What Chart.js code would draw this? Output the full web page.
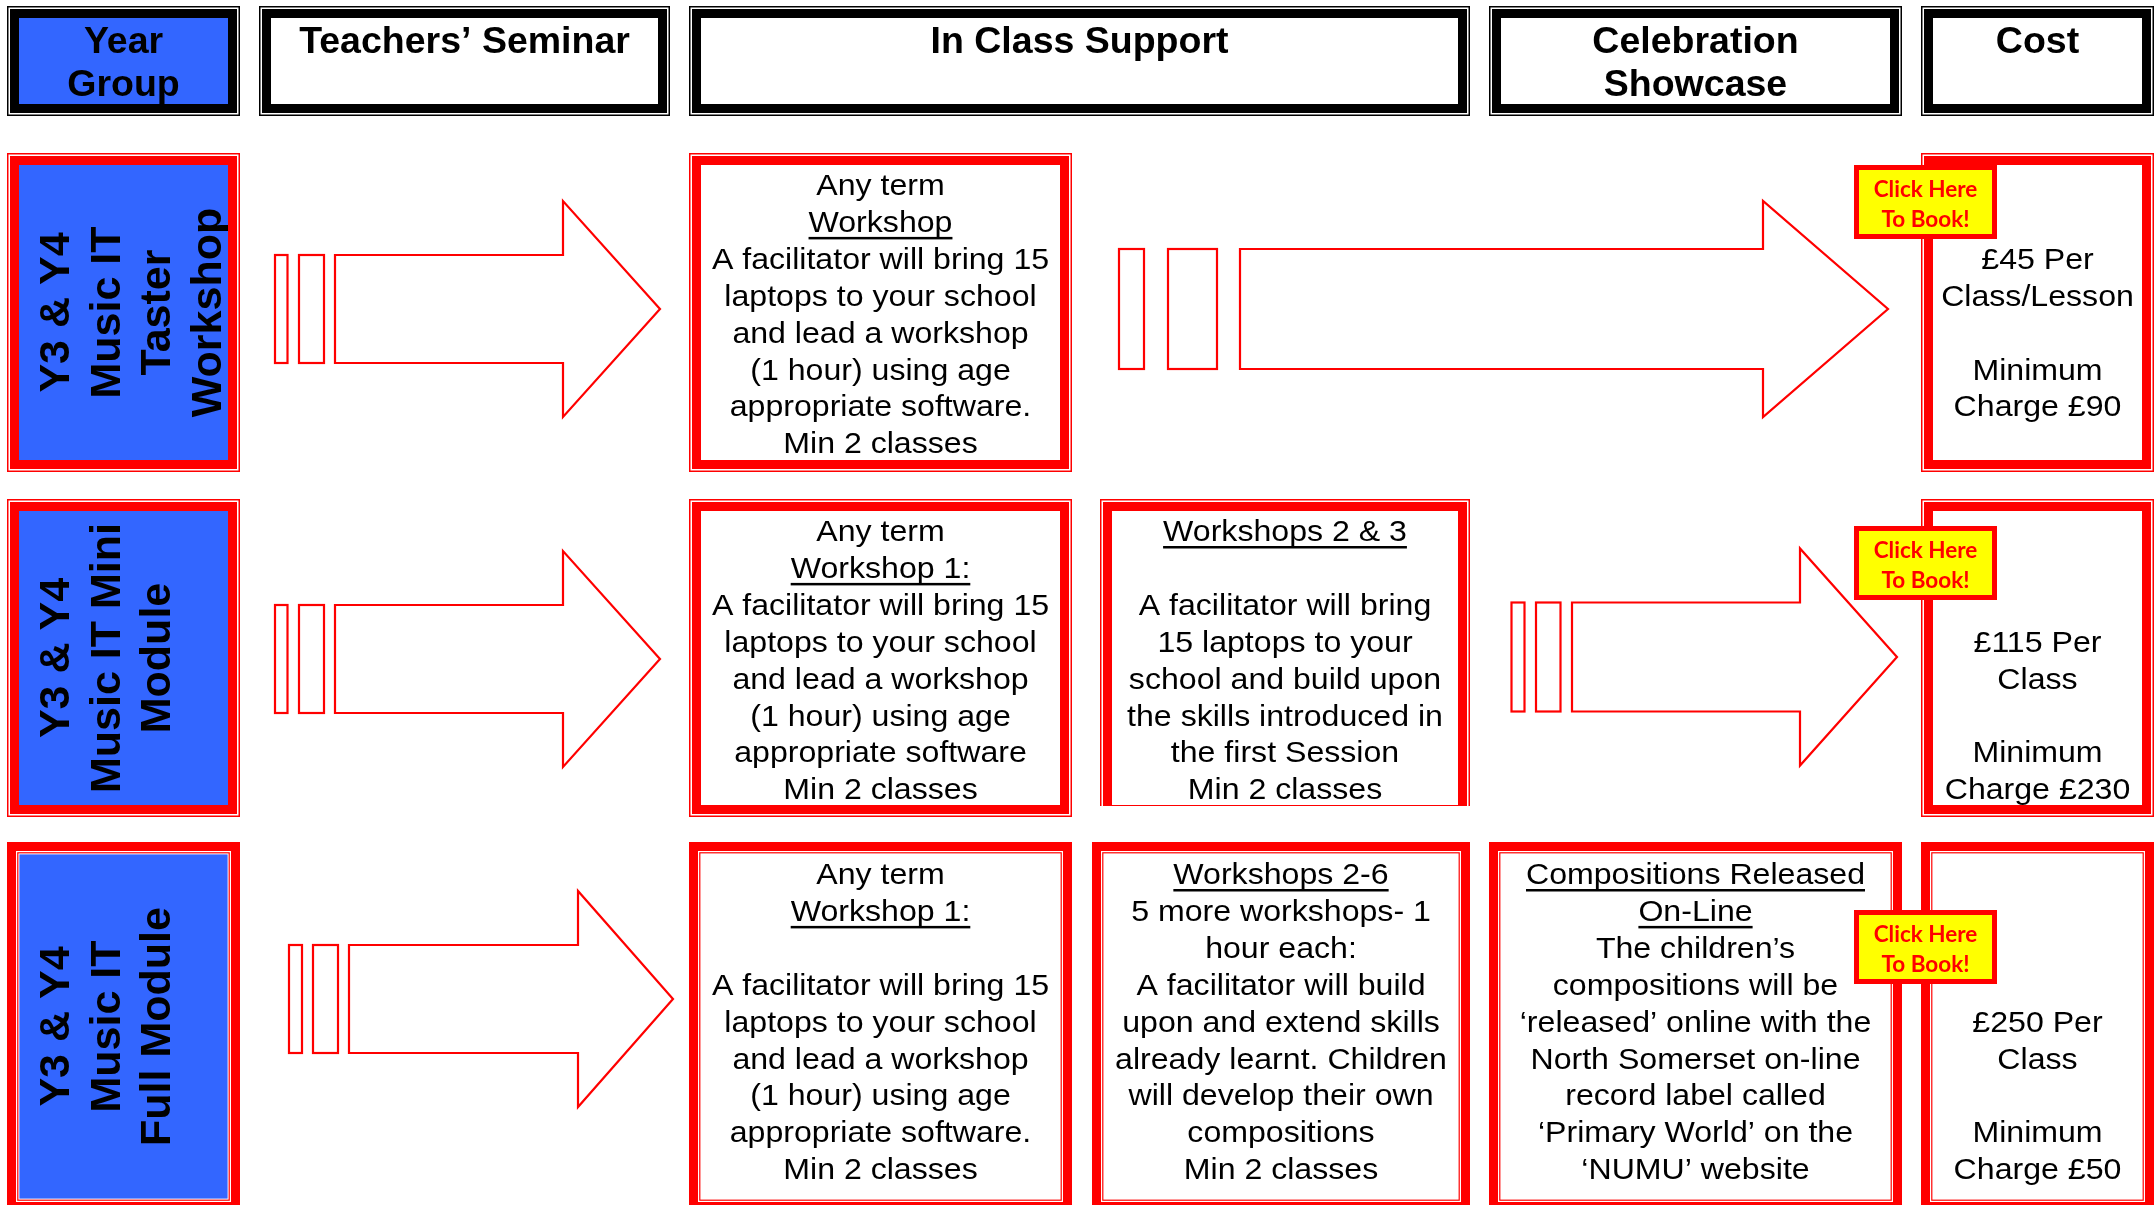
<!DOCTYPE html>
<html>
<head>
<meta charset="utf-8">
<script src="https://cdn.jsdelivr.net/npm/chart.js@4.4.1/dist/chart.umd.min.js"></script>
<style>
  html, body { margin: 0; padding: 0; background: #ffffff; overflow: hidden; }
  canvas { display: block; }
</style>
</head>
<body>
<canvas id="grafico" width="2154" height="1205"></canvas>
<script>
// ---- Contenido (textos del cuadro) ----
// Las líneas que empiezan por "_" van subrayadas.
const cabeceras = [
    ['Year', 'Group'],
    ['Teachers’ Seminar'],
    ['In Class Support'],
    ['Celebration', 'Showcase'],
    ['Cost']
];

const gruposCurso = [
    ['Y3 & Y4', 'Music IT', 'Taster', 'Workshop'],
    ['Y3 & Y4', 'Music IT Mini', 'Module'],
    ['Y3 & Y4', 'Music IT', 'Full Module']
];

const tallerUno = [
    ['Any term', '_Workshop', 'A facilitator will bring 15', 'laptops to your school', 'and lead a workshop',
        '(1 hour) using age', 'appropriate software.', 'Min 2 classes'],
    ['Any term', '_Workshop 1:', 'A facilitator will bring 15', 'laptops to your school', 'and lead a workshop',
        '(1 hour) using age', 'appropriate software', 'Min 2 classes'],
    ['Any term', '_Workshop 1:', '', 'A facilitator will bring 15', 'laptops to your school', 'and lead a workshop',
        '(1 hour) using age', 'appropriate software.', 'Min 2 classes']
];

const talleresSiguientes = [
    null,
    ['_Workshops 2 & 3', '', 'A facilitator will bring', '15 laptops to your', 'school and build upon',
        'the skills introduced in', 'the first Session', 'Min 2 classes'],
    ['_Workshops 2-6', '5 more workshops- 1', 'hour each:', 'A facilitator will build', 'upon and extend skills',
        'already learnt. Children', 'will develop their own', 'compositions', 'Min 2 classes']
];

const celebracion = [
    null,
    null,
    ['_Compositions Released', '_On-Line', 'The children’s', 'compositions will be', '‘released’ online with the',
        'North Somerset on-line', 'record label called', '‘Primary World’ on the', '‘NUMU’ website']
];

const costes = [
    ['', '', '£45 Per', 'Class/Lesson', '', 'Minimum', 'Charge £90'],
    ['', '', '', '£115 Per', 'Class', '', 'Minimum', 'Charge £230'],
    ['', '', '', '', '£250 Per', 'Class', '', 'Minimum', 'Charge £50']
];

const botonReserva = ['Click Here', 'To Book!'];

// ---- Maquetación (unidades de las escalas x / y) ----
const ANCHO = 2154, ALTO = 1205;
const COLUMNAS = {
    curso: [7, 240], seminario: [259, 670], apoyo1: [689, 1072], apoyo2: [1092, 1470],
    celebracion: [1489, 1902], coste: [1921, 2154]
};
const APOYO2_FILA2 = [1100, 1470];
const FILAS = [[6, 116], [153, 472], [499, 817], [842, 1211]];
const BOTON_X = [1854, 1997];
const BOTON_Y = [165, 526, 910];
const BOTON_ALTO = 74;
const FLECHAS = [
    { rayas: [275, 287.5, 299, 324], cuerpo: 335, punta: 563, fin: 660, cy: 309, medio: 54, cabeza: 108 },
    { rayas: [1119, 1144, 1168, 1217], cuerpo: 1240, punta: 1763, fin: 1888, cy: 309, medio: 60, cabeza: 108 },
    { rayas: [275, 287.5, 299, 324], cuerpo: 335, punta: 563, fin: 660, cy: 659, medio: 54, cabeza: 108 },
    { rayas: [1511.5, 1524.5, 1536, 1560.5], cuerpo: 1572, punta: 1800, fin: 1897, cy: 657, medio: 54.5, cabeza: 108.5 },
    { rayas: [289, 302, 313, 338], cuerpo: 349, punta: 578, fin: 673, cy: 999, medio: 54, cabeza: 108 }
];

const ROJO = '#ff0000', AZUL = '#3366ff', NEGRO = '#000000', AMARILLO = '#ffff00', BLANCO = '#ffffff';
const FUENTE = '"Liberation Sans", Arial, sans-serif';

/**
 * Dibuja un recuadro con marco doble. Estilo 'A': línea fina fuera y banda gruesa dentro.
 * Estilo 'B': banda gruesa fuera y línea fina dentro.
 */
function recuadro(ctx, esc, x0, y0, x1, y1, estilo, color, relleno, abiertoAbajo) {
    const X0 = esc.x.getPixelForValue(x0), X1 = esc.x.getPixelForValue(x1);
    const Y0 = esc.y.getPixelForValue(y0), Y1 = esc.y.getPixelForValue(y1);
    const w = X1 - X0, h = Y1 - Y0;
    ctx.save();
    if (abiertoAbajo) {
        ctx.beginPath();
        ctx.rect(X0, Y0, w, h - 11);
        ctx.clip();
    }
    const capa = (ins, c) => {
        ctx.fillStyle = c;
        ctx.fillRect(X0 + ins, Y0 + ins, w - 2 * ins, h - 2 * ins);
    };
    if (estilo === 'A') {
        capa(0, color);
        capa(1.5, BLANCO);
        capa(3, color);
        capa(12, relleno);
    } else {
        capa(0, color);
        capa(9, BLANCO);
        capa(10.2, color);
        capa(11.4, BLANCO);
        capa(12.4, relleno);
    }
    ctx.restore();
}

/**
 * Escribe varias líneas centradas a partir de una línea base inicial.
 */
function escribirLineas(ctx, lineas, cx, base, interlineado, fuente, estirado, color) {
    ctx.save();
    ctx.font = fuente;
    ctx.fillStyle = color;
    ctx.textAlign = 'center';
    ctx.textBaseline = 'alphabetic';
    lineas.forEach((linea, i) => {
        if (!linea) return;
        const subrayado = linea.startsWith('_');
        const texto = subrayado ? linea.slice(1) : linea;
        const y = base + i * interlineado;
        ctx.save();
        ctx.translate(cx, y);
        ctx.scale(estirado, 1);
        ctx.fillText(texto, 0, 0);
        if (subrayado) {
            const ancho = ctx.measureText(texto).width;
            ctx.fillRect(-ancho / 2, 5, ancho, 2.5);
        }
        ctx.restore();
    });
    ctx.restore();
}

function flecha(ctx, esc, f) {
    const px = v => esc.x.getPixelForValue(v);
    const py = v => esc.y.getPixelForValue(v);
    ctx.save();
    ctx.strokeStyle = ROJO;
    ctx.fillStyle = BLANCO;
    ctx.lineWidth = 2.2;
    ctx.lineJoin = 'miter';
    const top = py(f.cy - f.medio), bot = py(f.cy + f.medio);
    [[f.rayas[0], f.rayas[1]], [f.rayas[2], f.rayas[3]]].forEach(r => {
        ctx.fillRect(px(r[0]), top, px(r[1]) - px(r[0]), bot - top);
        ctx.strokeRect(px(r[0]), top, px(r[1]) - px(r[0]), bot - top);
    });
    ctx.beginPath();
    ctx.moveTo(px(f.cuerpo), top);
    ctx.lineTo(px(f.punta), top);
    ctx.lineTo(px(f.punta), py(f.cy - f.cabeza));
    ctx.lineTo(px(f.fin), py(f.cy));
    ctx.lineTo(px(f.punta), py(f.cy + f.cabeza));
    ctx.lineTo(px(f.punta), bot);
    ctx.lineTo(px(f.cuerpo), bot);
    ctx.closePath();
    ctx.fill();
    ctx.stroke();
    ctx.restore();
}

const pluginCuadro = {
    id: 'cuadroProgramas',
    afterDraw(chart) {
        const ctx = chart.ctx;
        const esc = chart.scales;
        const px = v => esc.x.getPixelForValue(v);
        const py = v => esc.y.getPixelForValue(v);
        const centro = c => px((c[0] + c[1]) / 2);

        // Cabecera
        const [h0, h1] = FILAS[0];
        const tramos = [COLUMNAS.curso, COLUMNAS.seminario, [COLUMNAS.apoyo1[0], COLUMNAS.apoyo2[1]],
            COLUMNAS.celebracion, COLUMNAS.coste];
        tramos.forEach((t, i) => {
            recuadro(ctx, esc, t[0], h0, t[1], h1, 'A', NEGRO, i === 0 ? AZUL : BLANCO);
            escribirLineas(ctx, cabeceras[i], centro(t), py(h0) + 47, 42.6, 'bold 37.5px ' + FUENTE, 1, NEGRO);
        });

        // Filas de programas
        gruposCurso.forEach((grupo, r) => {
            const [y0, y1] = FILAS[r + 1];
            const estilo = r === 2 ? 'B' : 'A';
            const base = py(y0) + 42;
            const cuerpo = '30px ' + FUENTE;

            recuadro(ctx, esc, COLUMNAS.curso[0], y0, COLUMNAS.curso[1], y1, estilo, ROJO, AZUL);
            ctx.save();
            ctx.beginPath();
            ctx.rect(px(COLUMNAS.curso[0]) + 12, py(y0) + 12,
                px(COLUMNAS.curso[1]) - px(COLUMNAS.curso[0]) - 24, py(y1) - py(y0) - 24);
            ctx.clip();
            ctx.translate(px(COLUMNAS.curso[0]), py((y0 + y1) / 2));
            ctx.rotate(-Math.PI / 2);
            escribirLineas(ctx, grupo, 0, 62, 50.5, 'bold 43px ' + FUENTE, 1, NEGRO);
            ctx.restore();

            recuadro(ctx, esc, COLUMNAS.apoyo1[0], y0, COLUMNAS.apoyo1[1], y1, estilo, ROJO, BLANCO);
            escribirLineas(ctx, tallerUno[r], centro(COLUMNAS.apoyo1), base, 36.9, cuerpo, 1.07, NEGRO);

            if (talleresSiguientes[r]) {
                const col = r === 1 ? APOYO2_FILA2 : COLUMNAS.apoyo2;
                recuadro(ctx, esc, col[0], y0, col[1], y1, estilo, ROJO, BLANCO, r === 1);
                escribirLineas(ctx, talleresSiguientes[r], centro(col), base, 36.9, cuerpo, 1.07, NEGRO);
            }
            if (celebracion[r]) {
                recuadro(ctx, esc, COLUMNAS.celebracion[0], y0, COLUMNAS.celebracion[1], y1, estilo, ROJO, BLANCO);
                escribirLineas(ctx, celebracion[r], centro(COLUMNAS.celebracion), base, 36.9, cuerpo, 1.07, NEGRO);
            }
            recuadro(ctx, esc, COLUMNAS.coste[0], y0, COLUMNAS.coste[1], y1, estilo, ROJO, BLANCO);
            escribirLineas(ctx, costes[r], centro(COLUMNAS.coste), base, 36.9, cuerpo, 1.07, NEGRO);
        });

        FLECHAS.forEach(f => flecha(ctx, esc, f));

        // Botones "Click Here"
        BOTON_Y.forEach(by => {
            const X0 = px(BOTON_X[0]), X1 = px(BOTON_X[1]);
            const Y0 = py(by), Y1 = py(by + BOTON_ALTO);
            ctx.fillStyle = ROJO;
            ctx.fillRect(X0, Y0, X1 - X0, Y1 - Y0);
            ctx.fillStyle = AMARILLO;
            ctx.fillRect(X0 + 5, Y0 + 5, X1 - X0 - 10, Y1 - Y0 - 10);
            escribirLineas(ctx, botonReserva, (X0 + X1) / 2, Y0 + 32, 30, 'bold 22.5px Lato, "Open Sans", sans-serif', 1, ROJO);
        });
    }
};

new Chart(document.getElementById('grafico'), {
    type: 'scatter',
    data: { datasets: [] },
    options: {
        responsive: false,
        animation: false,
        devicePixelRatio: 1,
        layout: { padding: 0 },
        scales: {
            x: { type: 'linear', min: 0, max: ANCHO, display: false },
            y: { type: 'linear', min: 0, max: ALTO, reverse: true, display: false }
        },
        plugins: {
            legend: { display: false },
            tooltip: { enabled: false }
        }
    },
    plugins: [pluginCuadro]
});
</script>
</body>
</html>
